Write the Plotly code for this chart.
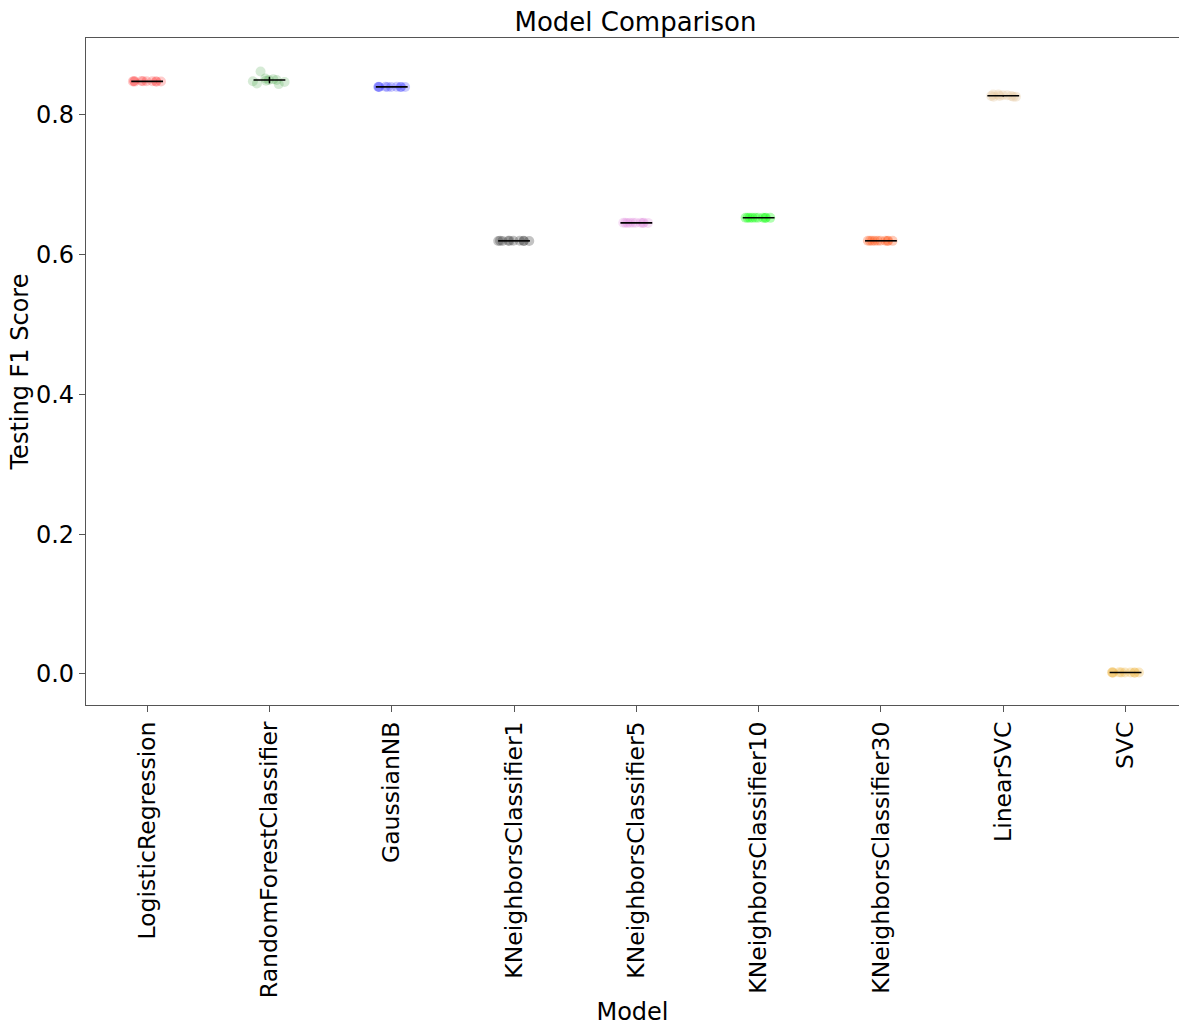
import numpy as np
import plotly.graph_objects as go

models = ["LogisticRegression", "RandomForestClassifier", "GaussianNB",
          "KNeighborsClassifier1", "KNeighborsClassifier5", "KNeighborsClassifier10",
          "KNeighborsClassifier30", "LinearSVC", "SVC"]

colors = ["rgba(255,0,0,0.2)", "rgba(0,128,0,0.16)", "rgba(0,0,255,0.2)",
          "rgba(40,40,40,0.28)", "rgba(218,112,214,0.22)", "rgba(0,255,0,0.3)",
          "rgba(255,69,0,0.28)", "rgba(230,200,160,0.35)", "rgba(240,180,60,0.3)"]

scores_lr = [0.848, 0.8475, 0.8485, 0.848, 0.8478, 0.8482, 0.8476, 0.8484, 0.848, 0.8479]
scores_rf = [0.862, 0.850, 0.848, 0.845, 0.852, 0.849, 0.851, 0.844, 0.850, 0.847]
scores_gnb = [0.8400, 0.8398, 0.8402, 0.8400, 0.8401, 0.8399, 0.8400, 0.8402, 0.8398, 0.8400]
scores_kn1 = [0.6195, 0.6198, 0.6196, 0.6200, 0.6197, 0.6194, 0.6199, 0.6196, 0.6198, 0.6197]
scores_kn5 = [0.6455, 0.6454, 0.6456, 0.6455, 0.6453, 0.6455, 0.6456, 0.6454, 0.6455, 0.6455]
scores_kn10 = [0.6527, 0.6526, 0.6528, 0.6527, 0.6525, 0.6527, 0.6528, 0.6526, 0.6527, 0.6527]
scores_kn30 = [0.6198, 0.6197, 0.6199, 0.6198, 0.6196, 0.6198, 0.6199, 0.6197, 0.6198, 0.6198]
scores_lsvc = [0.829, 0.827, 0.826, 0.828, 0.827, 0.826, 0.828, 0.827, 0.829, 0.826]
scores_svc = [0.0020, 0.0018, 0.0022, 0.0020, 0.0019, 0.0021, 0.0020, 0.0018, 0.0022, 0.0020]

all_scores = [scores_lr, scores_rf, scores_gnb, scores_kn1, scores_kn5,
              scores_kn10, scores_kn30, scores_lsvc, scores_svc]

fig = go.Figure()
for i, (name, vals, col) in enumerate(zip(models, all_scores, colors)):
    fig.add_trace(go.Box(
        x=[i] * len(vals), y=vals, name=name,
        boxpoints="all", jitter=1.0, pointpos=0, width=0.32,
        fillcolor="rgba(0,0,0,0)", line=dict(width=0, color="rgba(0,0,0,0)"),
        marker=dict(color=col, size=10, line=dict(width=0)),
        showlegend=False,
    ))

idx = list(range(len(models)))
means = [float(np.mean(v)) for v in all_scores]
stds = [float(np.std(v)) for v in all_scores]
fig.add_trace(go.Scatter(
    x=idx, y=means, mode="markers",
    marker=dict(size=1, color="rgba(0,0,0,0)"),
    error_x=dict(type="constant", value=0.13, width=0, color="black", thickness=1.6),
    error_y=dict(type="data", array=stds, width=0, color="black", thickness=1.5),
    showlegend=False,
))

font = "DejaVu Sans, Arial, sans-serif"
fig.update_layout(
    width=1179, height=1026,
    margin=dict(l=86, r=0, t=38, b=321),
    plot_bgcolor="white", paper_bgcolor="white",
    boxmode="overlay",
    title=dict(text="Model Comparison", x=0.539, xanchor="center", y=0.979, yanchor="middle",
               font=dict(family=font, size=26, color="black")),
    font=dict(family=font, color="black"),
)
fig.update_xaxes(
    range=[-0.5, 8.437], tickmode="array", tickvals=idx, ticktext=models,
    tickangle=-90, tickfont=dict(size=23.5, family=font, color="black"),
    ticks="outside", ticklen=6, tickcolor="#555",
    showline=True, linecolor="#555", linewidth=1.2, mirror=True,
    showgrid=False, zeroline=False,
    title=dict(text="Model", font=dict(size=24, family=font, color="black"), standoff=6),
)
fig.update_yaxes(
    range=[-0.0445, 0.910], tickmode="array", tickvals=[0.0, 0.2, 0.4, 0.6, 0.8],
    ticktext=["0.0", "0.2", "0.4", "0.6", "0.8"],
    tickfont=dict(size=24, family=font, color="black"),
    ticks="outside", ticklen=6, tickcolor="#555",
    showline=True, linecolor="#555", linewidth=1.2, mirror=False,
    showgrid=False, zeroline=False,
    title=dict(text="Testing F1 Score", font=dict(size=24, family=font, color="black"), standoff=0),
)

fig.write_html("out.html")
